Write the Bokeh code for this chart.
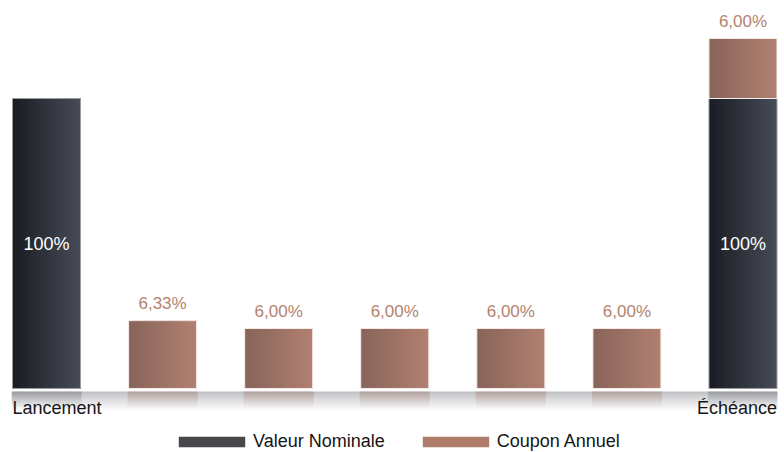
import numpy as np
from bokeh.plotting import figure
from bokeh.models import Legend, LegendItem, Range1d, ColumnDataSource
from bokeh.core.properties import value
from bokeh.embed import file_html
from bokeh.resources import INLINE

# ---------------- data ----------------
categories = ["Lancement", "", "", "", "", "", "Échéance"]
nominal_pct = [100, 0, 0, 0, 0, 0, 100]
coupon_pct = [0, 6.33, 6.00, 6.00, 6.00, 6.00, 6.00]
# drawn heights (the original chart is not drawn to scale)
nominal_height = [100, 0, 0, 0, 0, 0, 100]
coupon_height = [0, 23.4, 20.7, 20.7, 20.7, 20.7, 20.7]
series_names = ["Valeur Nominale", "Coupon Annuel"]

# ---------------- styling ----------------
FONT = "Liberation Sans"
NOM_L, NOM_R = "#1a1d24", "#474b55"
CPN_L, CPN_R = "#89645a", "#b08070"
NOM_LEG, CPN_LEG = "#47484b", "#b07c6a"
LABEL_CPN = "#b4836f"

W_PX, H_PX = 784, 452
PX_PER_X = 116.08
PX_PER_Y = 2.9
BASE_FROM_TOP = 388
X0_PX = 46  # px from frame left to first category centre

ux = 1.0 / PX_PER_X
uy = 1.0 / PX_PER_Y
bar_w = 68 * ux


def mix(c1, c2, t):
    a = np.array([int(c1[i:i + 2], 16) for i in (1, 3, 5)], float)
    b = np.array([int(c2[i:i + 2], 16) for i in (1, 3, 5)], float)
    c = a + (b - a) * t
    return "#%02x%02x%02x" % tuple(int(round(v)) for v in c)


p = figure(width=W_PX, height=H_PX, output_backend="svg", toolbar_location=None,
           x_range=Range1d(-X0_PX * ux, (W_PX - X0_PX) * ux),
           y_range=Range1d(-(H_PX - BASE_FROM_TOP) * uy, BASE_FROM_TOP * uy),
           x_axis_location=None, y_axis_location=None,
           min_border=0, min_border_left=0, min_border_right=0,
           min_border_top=0, min_border_bottom=0)
p.outline_line_color = None
p.grid.visible = False
p.background_fill_color = "white"
p.border_fill_color = "white"

xs = list(range(len(categories)))
n = len(xs)

# ---------------- reflection band ----------------
band_top = -3 * uy
band_bot = -23 * uy
M = 24
band_edges = np.linspace(band_top, band_bot, M + 1)
left_edge = xs[0] - bar_w / 2
right_edge = xs[-1] + bar_w / 2
bl, br, bt, bb, bc = [], [], [], [], []
for k in range(M):
    t = k / (M - 1)
    bl.append(left_edge); br.append(right_edge)
    bt.append(band_edges[k]); bb.append(band_bot)
    bc.append(mix("#bdbec1", "#ffffff", t ** 0.85))
p.quad(left=bl, right=br, top=bt, bottom=bb, fill_color=bc, line_color=None)

# bar reflections
rl, rr, rt, rb, rc, ra = [], [], [], [], [], []
for i in xs:
    if nominal_height[i] > 0:
        col, amax = "#3a3d44", 0.28
    elif coupon_height[i] > 0:
        col, amax = "#a07060", 0.38
    else:
        continue
    for k in range(M):
        t = k / (M - 1)
        rl.append(i - bar_w / 2 - 1 * ux); rr.append(i + bar_w / 2 + 1 * ux)
        rt.append(band_edges[k]); rb.append(band_edges[k + 1])
        rc.append(col); ra.append(amax * (1 - t) ** 1.6)
p.quad(left=rl, right=rr, top=rt, bottom=rb, fill_color=rc, fill_alpha=ra, line_color=None)

# ---------------- gradient bars (overlapping strips, no seams) ----------------
N = 34
ql, qr, qt, qb, qc = [], [], [], [], []
for i in xs:
    segs = []
    if nominal_height[i] > 0:
        segs.append((0, nominal_height[i], NOM_L, NOM_R))
    if coupon_height[i] > 0:
        b0 = nominal_height[i]
        segs.append((b0, b0 + coupon_height[i], CPN_L, CPN_R))
    for (b0, t0, cl, cr) in segs:
        for k in range(N):
            ql.append(i - bar_w / 2 + k * bar_w / N)
            qr.append(i + bar_w / 2)
            qt.append(t0); qb.append(b0)
            qc.append(mix(cl, cr, k / (N - 1)))
p.quad(left=ql, right=qr, top=qt, bottom=qb, fill_color=qc, line_color=None)

# outlines
nx = [i for i in xs if nominal_height[i] > 0]
p.vbar(x=nx, width=bar_w, top=[nominal_height[i] for i in nx], bottom=0,
       fill_color=None, line_color="#9a9ca0", line_width=1)
cx = [i for i in xs if coupon_height[i] > 0]
p.vbar(x=cx, width=bar_w, top=[nominal_height[i] + coupon_height[i] for i in cx],
       bottom=[nominal_height[i] for i in cx],
       fill_color=None, line_color="#f6eeea", line_width=1)

# ---------------- value labels ----------------
p.text(x=nx, y=[nominal_height[i] / 2 for i in nx],
       text=["%d%%" % nominal_pct[i] for i in nx],
       text_color="white", text_font=value(FONT), text_font_size="18px",
       text_align="center", text_baseline="middle")
p.text(x=cx, y=[nominal_height[i] + coupon_height[i] + 17 * uy for i in cx],
       text=[("%.2f" % coupon_pct[i]).replace(".", ",") + "%" for i in cx],
       text_color=LABEL_CPN, text_font=value(FONT), text_font_size="17px",
       text_align="center", text_baseline="alphabetic")

# ---------------- category labels ----------------
lab_x, lab_t, lab_a = [], [], []
for i, c in enumerate(categories):
    if not c:
        continue
    if i == 0:
        lab_x.append(i - bar_w / 2); lab_a.append("left")
    elif i == n - 1:
        lab_x.append(i + bar_w / 2); lab_a.append("right")
    else:
        lab_x.append(i); lab_a.append("center")
    lab_t.append(c)
src = ColumnDataSource(dict(x=lab_x, y=[-19 * uy] * len(lab_x), t=lab_t, a=lab_a))
p.text(x="x", y="y", text="t", text_align="a", source=src,
       text_color="#151515", text_font=value(FONT), text_font_size="18px",
       text_baseline="alphabetic")

# ---------------- legend ----------------
r1 = p.vbar(x=[0], width=bar_w, top=[0], bottom=[0], fill_color=NOM_LEG, line_color=None)
r2 = p.vbar(x=[0], width=bar_w, top=[0], bottom=[0], fill_color=CPN_LEG, line_color=None)
legend = Legend(items=[LegendItem(label=series_names[0], renderers=[r1]),
                       LegendItem(label=series_names[1], renderers=[r2])],
                orientation="horizontal", location=(170, 0),
                glyph_width=83, glyph_height=13, label_standoff=0, spacing=29,
                padding=0, margin=0, border_line_color=None,
                background_fill_alpha=0, label_height=10,
                label_text_font=FONT, label_text_font_size="18px",
                label_text_color="#151515")
p.add_layout(legend)

open("out.html", "w").write(file_html(p, INLINE))
